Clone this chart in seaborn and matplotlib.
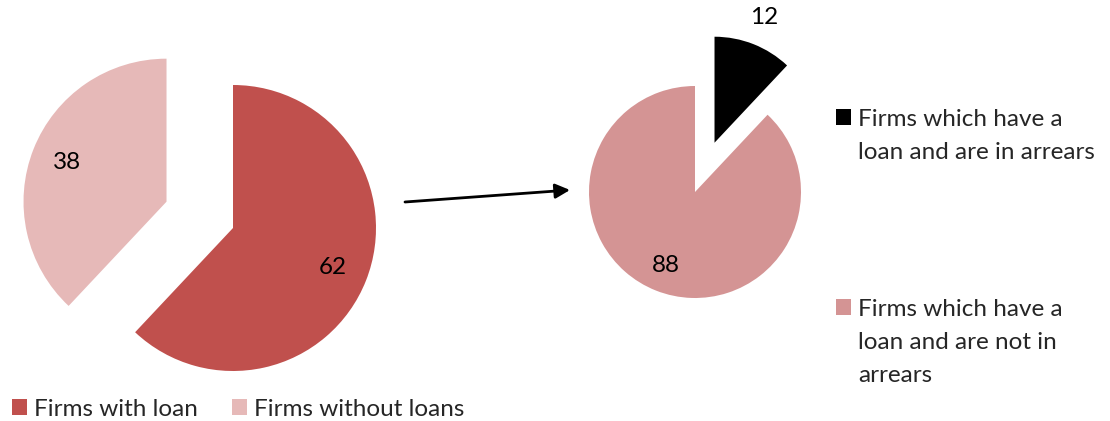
import matplotlib
matplotlib.use("Agg")
import matplotlib.pyplot as plt
import seaborn as sns

# data
loan_labels = ["Firms with loan", "Firms without loans"]
loan_values = [62, 38]
arrears_labels = ["Firms which have a\nloan and are in arrears",
                  "Firms which have a\nloan and are not in\narrears"]
arrears_values = [12, 88]

sns.set_style("white")
plt.rcParams["font.family"] = ["Lato", "DejaVu Sans"]
FS = 17.5

W, H = 1110, 421
fig = plt.figure(figsize=(W / 100, H / 100), dpi=100)


def pie_axes(cx, cy, r):
    ax = fig.add_axes([0, 0, 1, 1])
    ax.patch.set_alpha(0)
    return ax


def fit(ax, cx, cy, r):
    # one data unit = r pixels, pie centre at (cx, cy) from top-left
    ax.set_xlim(-cx / r, (W - cx) / r)
    ax.set_ylim(-(H - cy) / r, cy / r)
    ax.set_axis_off()


# left pie
ax1 = pie_axes(233, 228, 143)
w1, _, t1 = ax1.pie(loan_values, colors=["#C0504D", "#E6B9B8"], startangle=90,
                    counterclock=False, explode=[0, 0.5], radius=1,
                    wedgeprops={"linewidth": 0},
                    autopct=lambda p: f"{p:.0f}", pctdistance=0.75,
                    textprops={"fontsize": FS, "color": "black"})
fit(ax1, 233, 228, 143)

# right pie
ax2 = pie_axes(695, 192, 106)
w2, _, t2 = ax2.pie(arrears_values, colors=["#000000", "#D49494"], startangle=90,
                    counterclock=False, explode=[0.5, 0], radius=1,
                    wedgeprops={"linewidth": 0},
                    autopct=lambda p: f"{p:.0f}", pctdistance=0.75,
                    textprops={"fontsize": FS, "color": "black"})
fit(ax2, 695, 192, 106)
# small slice label sits outside the wedge
x0, y0 = t2[0].get_position()
t2[0].set_position((x0 * 1.42, y0 * 1.42))

# arrow between pies
ax1.annotate("", xy=(570, H - 190), xytext=(405, H - 202),
             xycoords="figure pixels", textcoords="figure pixels",
             arrowprops=dict(arrowstyle="-|>", color="black", lw=2,
                             mutation_scale=22, shrinkA=0, shrinkB=0))

# legends
leg1 = fig.legend(w1, loan_labels, loc="center left", bbox_to_anchor=(0 / W, 1 - 409 / H),
                  ncol=2, frameon=False, fontsize=FS, handlelength=0.6, handleheight=0.6,
                  handletextpad=0.3, columnspacing=1.4, borderpad=0)

leg2 = fig.legend(w2, arrears_labels, loc="upper left", bbox_to_anchor=(824 / W, 1 - 97 / H),
                  frameon=False, fontsize=FS, handlelength=0.6, handleheight=0.6,
                  handletextpad=0.3, labelspacing=5.6, borderpad=0, alignment="left")
for t in leg2.get_texts():
    t.set_linespacing(1.7)
# put the squares next to the first line of each entry
for col in leg2._legend_handle_box.get_children():
    for row in col.get_children():
        row.align = "top"

fig.savefig("out.png", dpi=100)
